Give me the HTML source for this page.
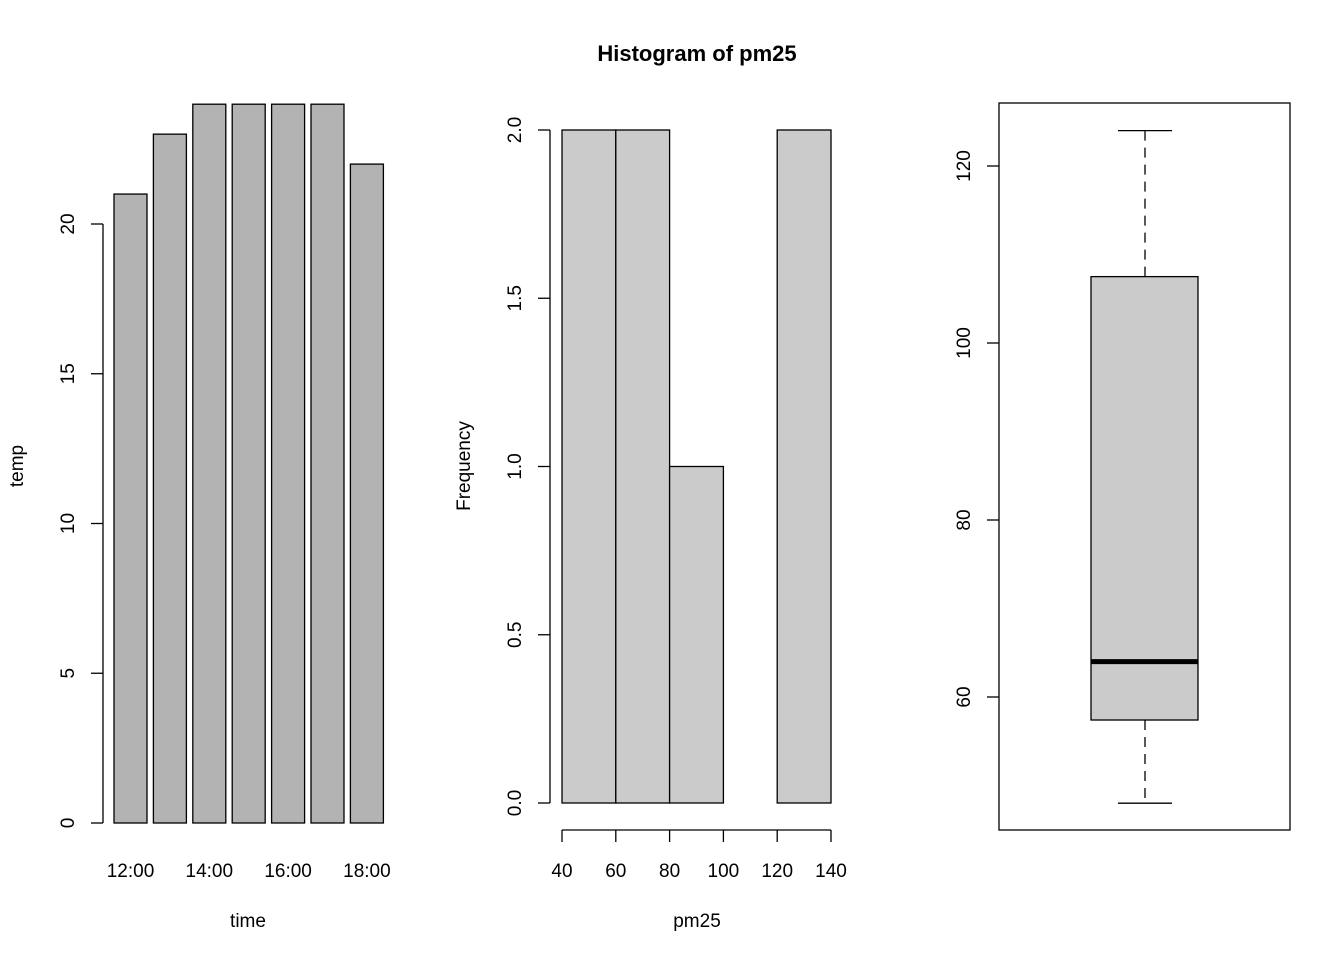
<!DOCTYPE html>
<html><head><meta charset="utf-8"><style>
html,body{margin:0;padding:0;background:#fff}
svg{display:block}
text{font-family:"Liberation Sans",Arial,sans-serif;font-size:19px;fill:#000}
</style></head><body>
<svg id="c" width="1344" height="960" xmlns="http://www.w3.org/2000/svg"></svg>
<script>
// Panel 1: barplot
const times = ["12:00","13:00","14:00","15:00","16:00","17:00","18:00"];
const temps = [21,23,24,24,24,24,22];
const tempTicks = [0,5,10,15,20];
const timeLabelIdx = [0,2,4,6];
// Panel 2: histogram
const binEdges = [40,60,80,100,120,140];
const binCounts = [2,2,1,0,2];
const freqTicks = [0,0.5,1,1.5,2];
const freqTickLabels = ["0.0","0.5","1.0","1.5","2.0"];
// Panel 3: boxplot
const boxStats = [48,57.4,64,107.5,124]; // min,q1,median,q3,max
const boxTicks = [60,80,100,120];

const svg=document.getElementById('c');
const NS='http://www.w3.org/2000/svg';
function mk(tag,attrs,parent){const e=document.createElementNS(NS,tag);for(const k in attrs)e.setAttribute(k,attrs[k]);(parent||svg).appendChild(e);return e;}
function txt(x,y,s,rot,parent,extra){const t=mk('text',Object.assign({x:x,y:y,'text-anchor':'middle'},extra||{}),parent);if(rot)t.setAttribute('transform','rotate(-90 '+x+' '+y+')');t.textContent=s;return t;}
const S={stroke:'#000','stroke-width':1.3,fill:'none'};

// ---- Panel 1
const g1=mk('g',{});


const y1=v=>823-v*29.95;
const bx=i=>114+i*39.4;
temps.forEach((v,i)=>{const r=mk('rect',{x:bx(i),y:y1(v),width:33,height:y1(0)-y1(v),fill:'#b3b3b3',stroke:'#000','stroke-width':1.3},g1);

});
mk('line',Object.assign({x1:103,x2:103,y1:y1(0),y2:y1(20)},S),g1);
tempTicks.forEach(t=>{mk('line',Object.assign({x1:91,x2:103,y1:y1(t),y2:y1(t)},S),g1);
const l=txt(74,y1(t),String(t),true,g1);});
timeLabelIdx.forEach(i=>{const l=txt(bx(i)+16.5,877,times[i],false,g1);});
const xt1=txt(248,927,'time',false,g1);
const yt1=txt(23,466,'temp',true,g1);

// ---- Panel 2
const g2=mk('g',{});


const y2=v=>803-v*336.5;
const x2=v=>562+(v-40)*2.69;
binCounts.forEach((c,i)=>{const r=mk('rect',{x:x2(binEdges[i]),y:y2(c),width:x2(binEdges[i+1])-x2(binEdges[i]),height:y2(0)-y2(c),fill:'#cbcbcb',stroke:'#000','stroke-width':1.3},g2);

});
mk('line',Object.assign({x1:550,x2:550,y1:y2(0),y2:y2(2)},S),g2);
freqTicks.forEach((t,i)=>{mk('line',Object.assign({x1:538,x2:550,y1:y2(t),y2:y2(t)},S),g2);
const l=txt(521,y2(t),freqTickLabels[i],true,g2);});
mk('line',Object.assign({x1:x2(40),x2:x2(140),y1:830,y2:830},S),g2);
binEdges.forEach(t=>{mk('line',Object.assign({x1:x2(t),x2:x2(t),y1:830,y2:842},S),g2);
const l=txt(x2(t),877,String(t),false,g2);});
const xt2=txt(697,927,'pm25',false,g2);
const yt2=txt(470,466,'Frequency',true,g2);
const tt=txt(697,61,'Histogram of pm25',false,g2,{style:'font-weight:bold;font-size:22px'});

// ---- Panel 3
const g3=mk('g',{});


const y3=v=>697-(v-60)*8.85;
mk('rect',Object.assign({x:999,y:103,width:291,height:727},S),g3);
const [mn,q1,md,q3,mx]=boxStats;
mk('line',Object.assign({x1:1145,x2:1145,y1:y3(mx),y2:y3(q3),'stroke-dasharray':'10,7'},S),g3);
mk('line',Object.assign({x1:1145,x2:1145,y1:y3(q1),y2:y3(mn),'stroke-dasharray':'10,7'},S),g3);
mk('line',Object.assign({x1:1118,x2:1172,y1:y3(mx),y2:y3(mx)},S),g3);
mk('line',Object.assign({x1:1118,x2:1172,y1:y3(mn),y2:y3(mn)},S),g3);
const bb=mk('rect',{x:1091,y:y3(q3),width:107,height:y3(q1)-y3(q3),fill:'#cbcbcb',stroke:'#000','stroke-width':1.3},g3);


const ml=mk('line',{x1:1091,x2:1198,y1:y3(md),y2:y3(md),stroke:'#000','stroke-width':5},g3);


boxTicks.forEach(t=>{mk('line',Object.assign({x1:987,x2:999,y1:y3(t),y2:y3(t)},S),g3);
const l=txt(970,y3(t),String(t),true,g3);});
</script>
</body></html>
